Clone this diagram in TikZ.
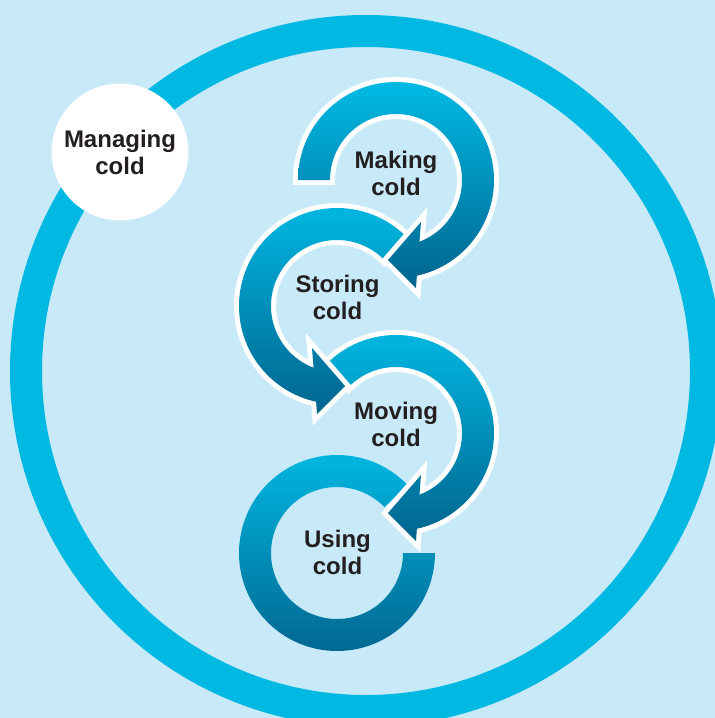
\documentclass[tikz,border=0pt]{standalone}
\usepackage{fontspec}
\setmainfont{Liberation Sans}
\definecolor{bg}{HTML}{C7E9F8}
\definecolor{ringc}{HTML}{00B9E3}
\definecolor{gtop}{HTML}{00BAE4}
\definecolor{gbot}{HTML}{00648E}
\definecolor{txt}{HTML}{231F20}
\begin{document}
\begin{tikzpicture}[x=1pt,y=1pt,
  outl/.style={draw=white, line width=10pt, line join=miter, miter limit=10},
  grad/.style={top color=gtop, bottom color=gbot},
  lbl/.style={align=center, font=\fontsize{24}{27}\selectfont\bfseries, text=txt, inner sep=0pt}]
\useasboundingbox (0,0) rectangle (715,-718);
\clip (0,0) rectangle (715,-718);
\fill[bg] (0,0) rectangle (715,-718);
% outer ring
\draw[ringc, line width=32pt] (366,-371) circle[radius=340];
% Managing cold
\node[circle, fill=white, minimum size=137pt, lbl] (mg) at (120,-152) {Managing\\cold};

% Using cold (bottom, no outline)
\begin{scope}[shift={(337,-553)}]
  \shade[grad] (44:98) arc[start angle=44, end angle=360, radius=98] -- (0:66)
     arc[start angle=360, end angle=44, radius=66] -- cycle;
\end{scope}
% Moving cold
\begin{scope}[shift={(396,-433)}]
  \draw[outl] (136:98) arc[start angle=136, end angle=-77.7, radius=98] -- (20,-108) -- (-8,-80) -- (25,-42) -- (-69.2:66)
     arc[start angle=-69.2, end angle=136, radius=66] -- cycle;
  \shade[grad] (136:98) arc[start angle=136, end angle=-77.7, radius=98] -- (20,-108) -- (-8,-80) -- (25,-42) -- (-69.2:66)
     arc[start angle=-69.2, end angle=136, radius=66] -- cycle;
\end{scope}
% Storing cold (mirrored)
\begin{scope}[shift={(337,-306)}, xscale=-1]
  \draw[outl] (136:98) arc[start angle=136, end angle=-77.7, radius=98] -- (20,-108) -- (-8,-80) -- (25,-42) -- (-69.2:66)
     arc[start angle=-69.2, end angle=136, radius=66] -- cycle;
  \shade[grad] (136:98) arc[start angle=136, end angle=-77.7, radius=98] -- (20,-108) -- (-8,-80) -- (25,-42) -- (-69.2:66)
     arc[start angle=-69.2, end angle=136, radius=66] -- cycle;
\end{scope}
% Making cold
\begin{scope}[shift={(396,-180)}]
  \draw[outl] (180:98) arc[start angle=180, end angle=-77.7, radius=98] -- (20,-108) -- (-8,-80) -- (25,-42) -- (-69.2:66)
     arc[start angle=-69.2, end angle=180, radius=66] -- cycle;
  \shade[grad] (180:98) arc[start angle=180, end angle=-77.7, radius=98] -- (20,-108) -- (-8,-80) -- (25,-42) -- (-69.2:66)
     arc[start angle=-69.2, end angle=180, radius=66] -- cycle;
\end{scope}

\node[lbl] (mk) at (396,-173) {Making\\cold};
\node[lbl] (st) at (337.5,-297) {Storing\\cold};
\node[lbl] (mv) at (396,-424) {Moving\\cold};
\node[lbl] (us) at (337.5,-552) {Using\\cold};
\end{tikzpicture}
\end{document}
